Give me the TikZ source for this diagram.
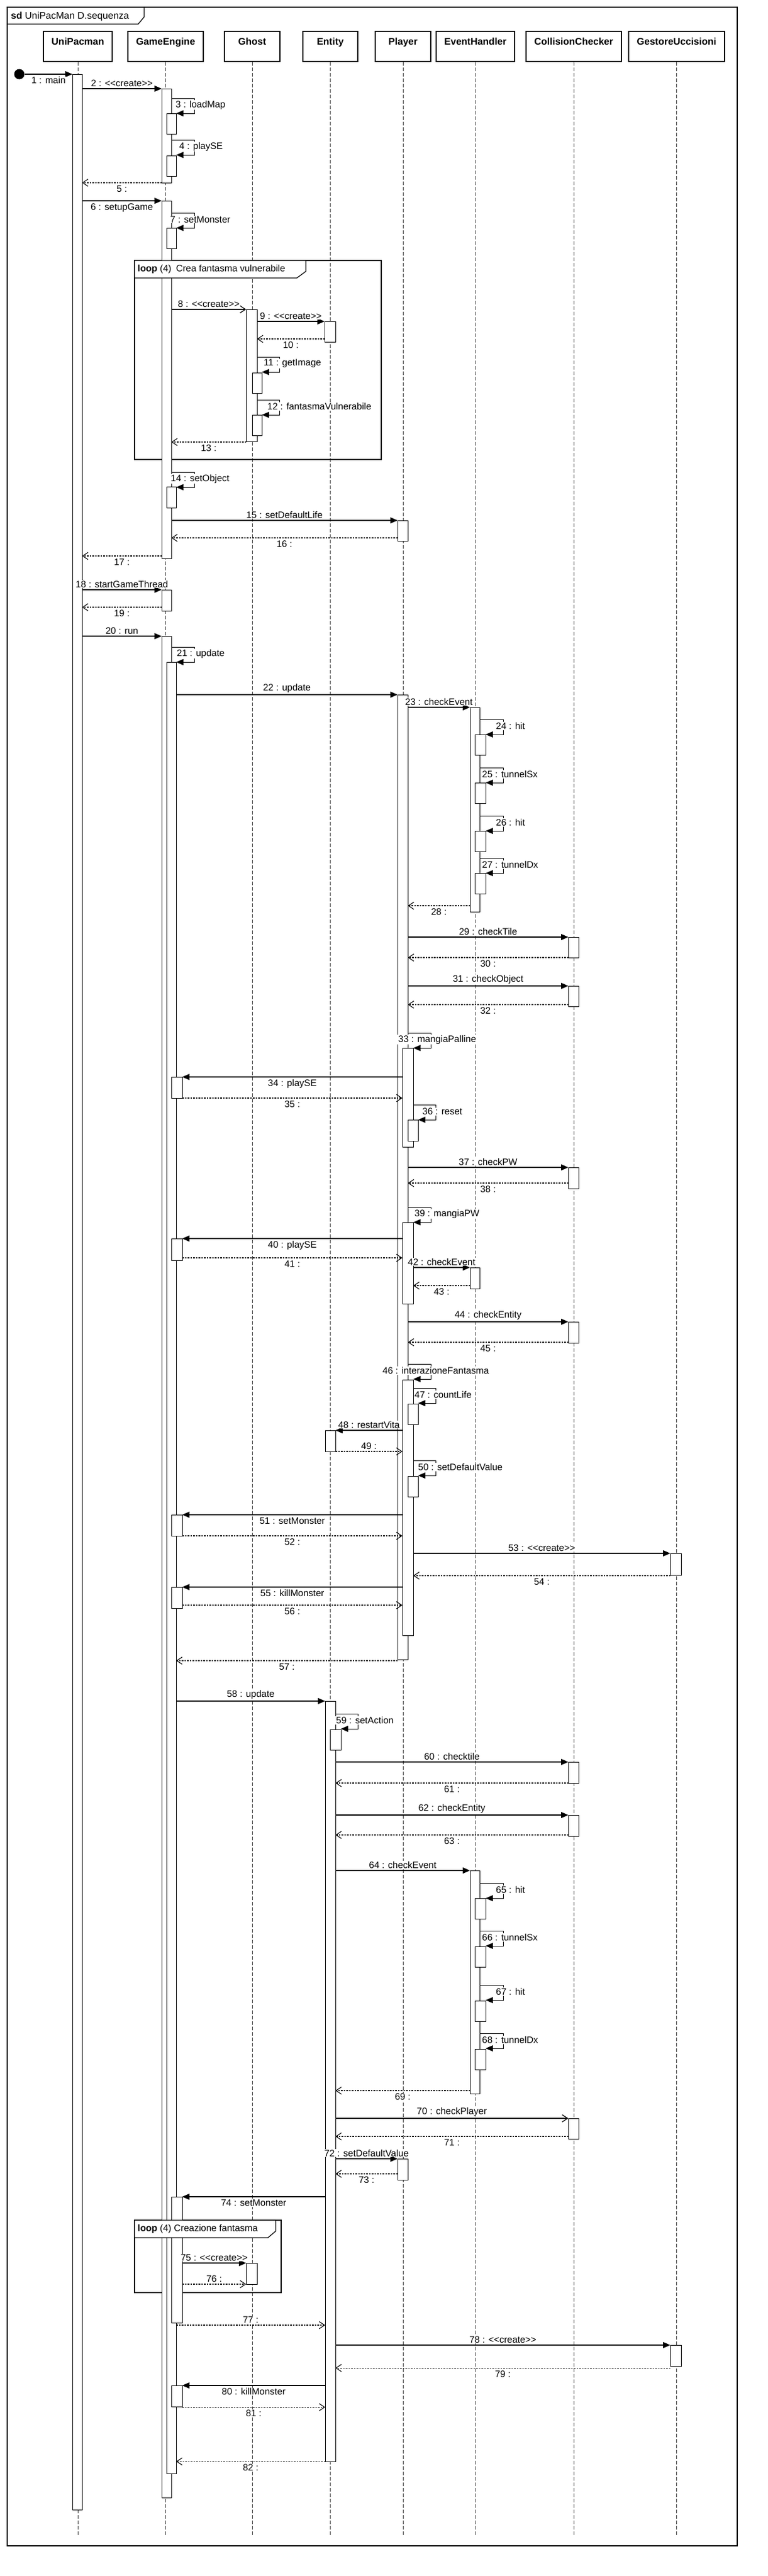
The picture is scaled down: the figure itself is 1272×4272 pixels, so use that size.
\documentclass[tikz,border=0pt]{standalone}
\usepackage{fontspec}
\setmainfont{Liberation Sans}
\usetikzlibrary{arrows.meta}
\newcommand{\msgfont}{\fontsize{15.5}{18}\selectfont}
\newcommand{\headfont}{\fontsize{16}{19}\selectfont\bfseries}
\newcommand{\crt}{<\kern0pt<create>\kern0pt>}

\begin{document}
\begin{tikzpicture}[x=1pt, y=-1pt,
    head/.style={draw, line width=1.2pt, minimum height=50pt, inner sep=0pt},
    headtext/.style={anchor=north, yshift=-11pt, inner sep=0pt, font=\headfont},
    lifeline/.style={draw=black!75, line width=0.9pt, dash pattern=on 6pt off 3pt},
    act/.style={draw, fill=white, line width=1pt},
    msg/.style={-{Triangle[length=12pt, width=10pt]}, line width=1.3pt},
    selfmsg/.style={msg, line width=1pt},
    openmsg/.style={-{Straight Barb[length=9pt, width=12pt]}, line width=1.3pt},
    ret/.style={-{Straight Barb[length=9pt, width=12pt]}, line width=1.1pt, dash pattern=on 2.5pt off 2pt},
    lbl/.style={fill=white, inner sep=1pt, font=\msgfont},
    frag/.style={line width=1.3pt},
]
    \useasboundingbox (0,0) rectangle (1272,4272);

    % Frame
    \draw[frag] (12,12) rectangle (1222,4222);
    \draw[frag] (12,40) -- (229,40) -- (239,28) -- (239,12);
    \node[anchor=west, inner sep=0pt, font=\fontsize{16}{19}\selectfont] (title) at (18,27)
        {\textbf{sd} UniPacMan D.sequenza};

    % Lifelines
    \coordinate (bottom) at (0,4205);
    \foreach \name/\cx/\w/\txt in {unipacman/129/114/UniPacman, gameengine/274.5/125/GameEngine,
        ghost/418/92/Ghost, entity/547.5/91/Entity, player/668/92/Player,
        eventhandler/788/130/EventHandler, collisionchecker/951/158/CollisionChecker,
        gestore/1121.5/159/GestoreUccisioni}{
        \node[head, minimum width=\w pt, label={[headtext]north:\txt}] (\name) at (\cx,77) {};
        \draw[lifeline] (\name.south) -- (\name.south |- bottom);
    }

    % Loop fragments
    \draw[frag] (223,432) rectangle (632,762);
    \draw[frag] (223,3682) rectangle (466,3802);

    % Activations
    \foreach \xa/\xb/\ya/\yb in {120/136/123/4162, 268/284/147/303, 268/284/333/926,
        268/284/978/1013, 268/284/1055/4142, 408/426/513/732, 408/426/3753/3788,
        538/556/533/567, 539/556/2372/2407, 539/556/2821/4082, 659/676/863/897,
        659/676/1152/2752, 659/676/3580/3615, 779/795/1173/1512, 779/795/2102/2137,
        779/795/3102/3472, 942/959/1554/1588, 942/959/1635/1669, 942/959/1936/1971,
        942/959/2192/2227, 942/959/2922/2957, 942/959/3010/3045, 942/959/3513/3547,
        1111/1129/2576/2612, 1111/1129/3889/3924}
        \draw[act] (\xa,\ya) rectangle (\xb,\yb);
    \foreach \xa/\xb/\ya/\yb in {276/292/188/222, 276/292/258/292, 276/292/378/412,
        276/292/807/842, 276/292/1098/4102, 418/434/618/652, 418/434/688/722,
        547/565/2868/2902, 667/685/1738/1902, 667/685/2027/2162, 667/685/2288/2712,
        787/805/1218/1252, 787/805/1298/1332, 787/805/1378/1412, 787/805/1448/1482,
        787/805/3148/3182, 787/805/3228/3262, 787/805/3318/3352, 787/805/3398/3432}
        \draw[act] (\xa,\ya) rectangle (\xb,\yb);
    \foreach \xa/\xb/\ya/\yb in {284/302/1786/1821, 284/302/2054/2090, 284/302/2512/2547,
        284/302/2632/2667, 284/302/3643/3852, 284/302/3956/3991, 676/693/1857/1892,
        676/693/2328/2362, 676/693/2448/2482}
        \draw[act] (\xa,\ya) rectangle (\xb,\yb);

    % Loop tabs
    \draw[frag, fill=white] (223,432) -- (507,432) -- (507,450) -- (492,461) -- (223,461) -- cycle;
    \node[anchor=west, inner sep=0pt, font=\msgfont] (loop1) at (228,446)
        {\textbf{loop} (4)\enspace Crea fantasma vulnerabile};
    \draw[frag, fill=white] (223,3682) -- (457,3682) -- (457,3700) -- (444,3711) -- (223,3711) -- cycle;
    \node[anchor=west, inner sep=0pt, font=\msgfont] (loop2) at (228,3696)
        {\textbf{loop} (4) Creazione fantasma};

    % Start
    \node[circle, fill=black, minimum size=17pt, inner sep=0pt] (start) at (32,123) {};
    \draw[msg] (start) -- node[lbl, below=3pt] (m1) {1 : main} (120,123);

    % Calls
    \foreach \n/\y/\xa/\xb/\txt in {2/147/136/268/\crt, 9/533/426/538/\crt,
        15/863/284/659/setDefaultLife, 18/978/136/268/startGameThread, 20/1055/136/268/run,
        22/1152/292/659/update, 23/1173/676/779/checkEvent, 29/1554/676/942/checkTile,
        31/1635/676/942/checkObject, 37/1936/676/942/checkPW, 42/2102/685/779/checkEvent,
        44/2192/676/942/checkEntity, 48/2372/667/556/restartVita, 53/2576/685/1111/\crt,
        58/2821/292/539/update, 60/2922/556/942/checktile, 62/3010/556/942/checkEntity,
        64/3102/556/779/checkEvent, 72/3580/556/659/setDefaultValue, 75/3753/302/408/\crt,
        78/3889/556/1111/\crt}
        \draw[msg] (\xa,\y) -- node[lbl, above=2pt] (m\n) {\n{} : \txt} (\xb,\y);
    \foreach \n/\y/\xa/\xb/\txt in {8/513/284/408/\crt, 70/3513/556/942/checkPlayer}
        \draw[openmsg] (\xa,\y) -- node[lbl, above=2pt] (m\n) {\n{} : \txt} (\xb,\y);
    \foreach \n/\y/\xa/\xb/\txt in {6/333/136/268/setupGame, 34/1786/667/302/playSE,
        40/2054/667/302/playSE, 51/2512/667/302/setMonster, 55/2632/667/302/killMonster,
        74/3643/539/302/setMonster, 80/3956/539/302/killMonster}
        \draw[msg] (\xa,\y) -- node[lbl, below=3pt] (m\n) {\n{} : \txt} (\xb,\y);

    % Self calls
    \foreach \n/\y/\xa/\xr/\xb/\lx/\txt in {3/163/284/322/292/290/loadMap,
        4/232/284/322/292/296/playSE, 7/353/284/322/292/281/setMonster,
        11/592/426/463/434/436/getImage, 12/663/426/463/434/442/fantasmaVulnerabile,
        14/783/284/322/292/282/setObject, 21/1073/284/322/292/292/update,
        24/1193/795/834/805/821/hit, 25/1273/795/834/805/798/tunnelSx,
        26/1353/795/834/805/821/hit, 27/1423/795/834/805/798/tunnelDx,
        33/1713/676/714/685/659/mangiaPalline, 36/1832/685/722/693/699/reset,
        39/2002/676/714/685/686/mangiaPW, 46/2262/676/714/685/633/interazioneFantasma,
        47/2302/685/722/693/686/countLife, 50/2422/685/722/693/692/setDefaultValue,
        59/2842/556/593/565/556/setAction, 65/3123/795/834/805/821/hit,
        66/3202/795/834/805/798/tunnelSx, 67/3292/795/834/805/821/hit,
        68/3372/795/834/805/798/tunnelDx}{
        \draw[selfmsg] (\xa,\y) -- (\xr,\y) -- (\xr,{\y+25}) -- (\xb,{\y+25});
        \node[lbl, anchor=west] (m\n) at (\lx,{\y+11}) {\n{} : \txt};
    }

    % Returns
    \foreach \n/\y/\xa/\xb in {5/303/268/136, 10/562/538/426, 13/733/408/284,
        16/892/659/284, 17/922/268/136, 19/1007/268/136, 28/1502/779/676,
        30/1588/942/676, 32/1666/942/676, 35/1821/302/667, 38/1962/942/676,
        41/2086/302/667, 43/2132/779/685, 45/2226/942/676, 52/2547/302/667,
        54/2613/1111/685, 56/2662/302/667, 57/2754/659/292, 61/2957/942/556,
        63/3043/942/556, 69/3467/779/556, 71/3543/942/556, 73/3605/659/556,
        79/3927/1111/556, 81/3992/302/539, 82/4082/539/292}
        \draw[ret] (\xa,\y) -- node[lbl, below=3pt] (m\n) {\n{} :} (\xb,\y);
    \foreach \n/\y/\xa/\xb in {49/2407/556/667, 76/3788/302/408, 77/3856/292/539}
        \draw[ret] (\xa,\y) -- node[lbl, above=2pt] (m\n) {\n{} :} (\xb,\y);
\end{tikzpicture}
\end{document}
